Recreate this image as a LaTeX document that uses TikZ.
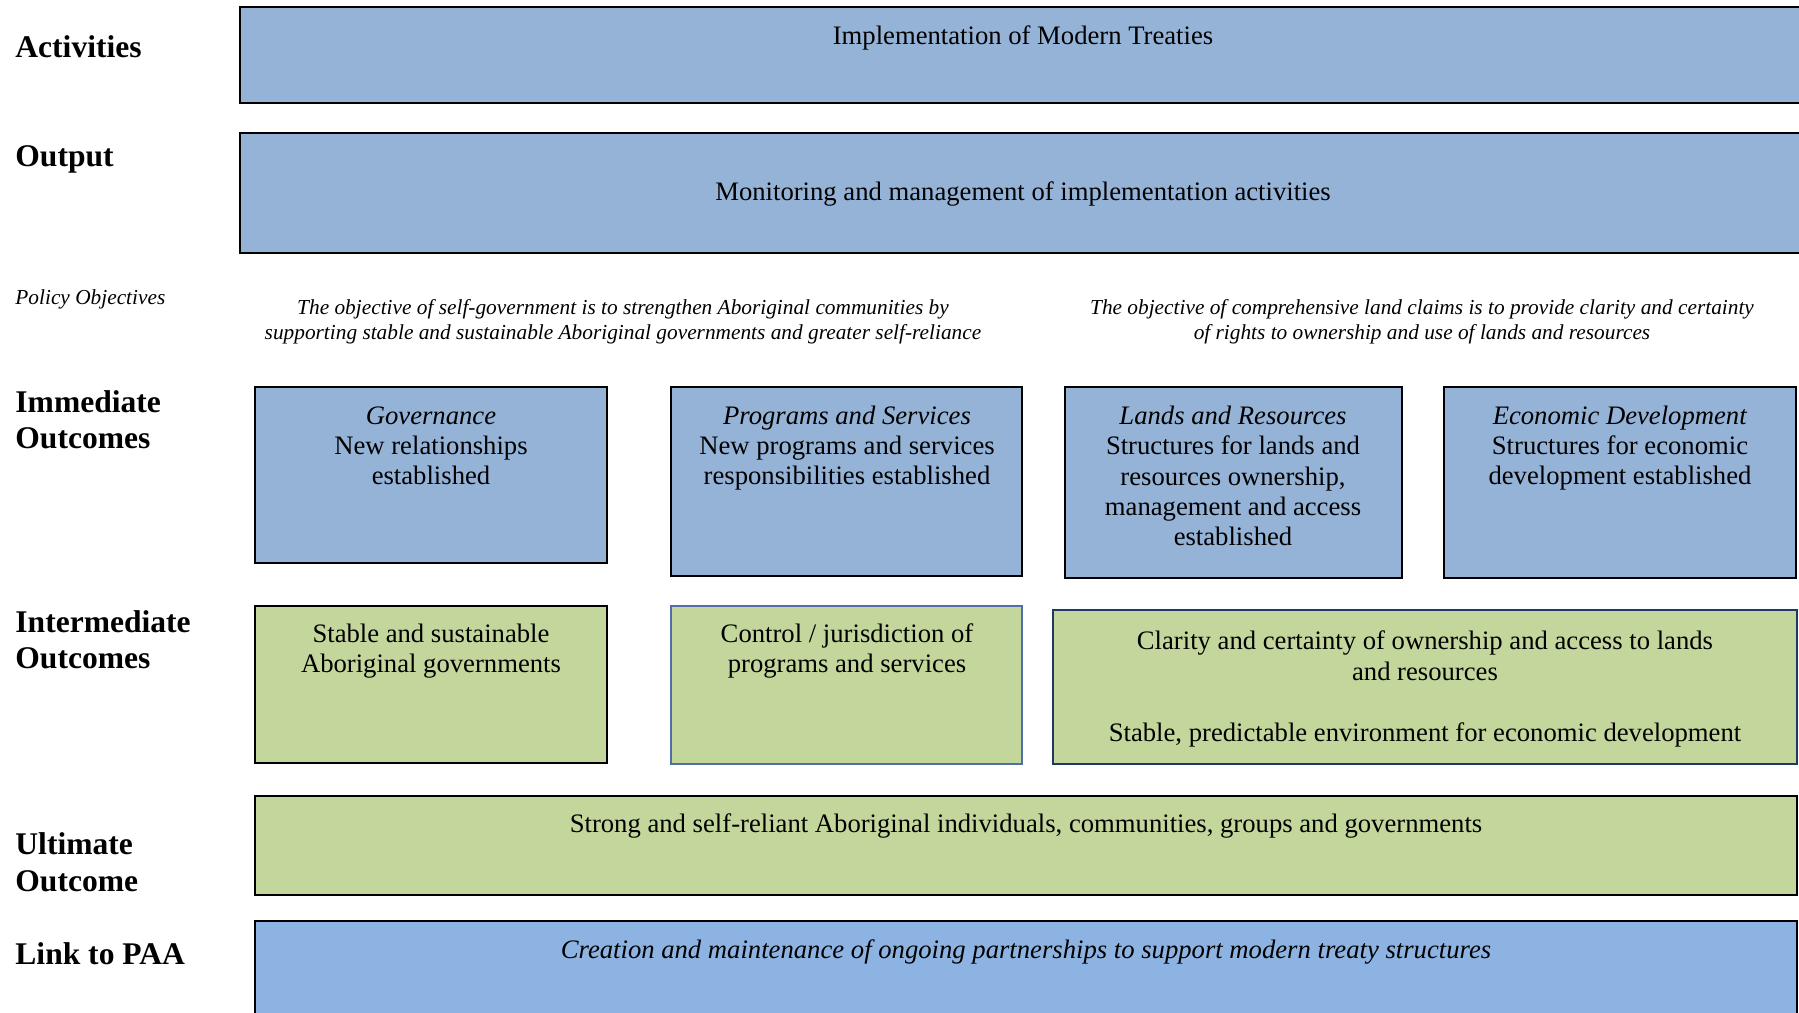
\documentclass[tikz,border=0pt]{standalone}
\usepackage{fontspec}
\setmainfont{Liberation Serif}
\usetikzlibrary{positioning}
\definecolor{boxblue}{HTML}{95B3D7}
\definecolor{paablue}{HTML}{8DB3E2}
\definecolor{boxgreen}{HTML}{C3D69B}
\definecolor{navyline}{HTML}{1F3864}
\definecolor{thinblue}{HTML}{4F6FA8}
\tikzset{rowlabel/.style={anchor=base west, align=left, inner sep=0, font=\fontsize{14.2}{16.6}\selectfont\bfseries},
         boxtext/.style={anchor=base, align=center, inner sep=0, font=\fontsize{12}{13.7}\selectfont},
         objtext/.style={anchor=base, align=center, inner sep=0, font=\fontsize{9.6}{11.3}\selectfont\itshape},
         bluebox/.style={draw, line width=0.8pt, fill=boxblue},
         greenbox/.style={draw, line width=0.8pt, fill=boxgreen}}

\begin{document}
\begin{tikzpicture}[x=0.45pt, y=-0.45pt]
    \useasboundingbox (0,0) rectangle (1799,1013);
    \clip (0,0) rectangle (1799,1013);
    \draw[bluebox] (240,7) rectangle (1810,103);
    \draw[bluebox] (240,133) rectangle (1810,253);
    \draw[bluebox] (255,387) rectangle (607,563);
    \draw[bluebox] (671,387) rectangle (1022,576);
    \draw[bluebox] (1065,387) rectangle (1402,578);
    \draw[bluebox] (1444,387) rectangle (1796,578);
    \draw[greenbox] (255,606) rectangle (607,763);
    \draw[greenbox, draw=thinblue, line width=0.5pt] (671,606) rectangle (1022,764);
    \draw[greenbox, draw=navyline] (1053,610) rectangle (1797,764);
    \draw[greenbox] (255,796) rectangle (1797,895);
    \draw[bluebox, fill=paablue] (255,921) rectangle (1797,1030);

    % base anchor of a multi-line node is its last line
    \node[rowlabel] (lact) at (15,58) {Activities};
    \node[rowlabel] (lout) at (15,167) {Output};
    \node[rowlabel, font=\fontsize{9.6}{11.3}\selectfont\itshape] (lpol) at (15,305) {Policy Objectives};
    \node[rowlabel] (limm) at (15,449) {Immediate\\Outcomes};
    \node[rowlabel] (lint) at (15,669) {Intermediate\\Outcomes};
    \node[rowlabel] (lult) at (15,891) {Ultimate\\Outcome};
    \node[rowlabel] (lpaa) at (15,964) {Link to PAA};

    \node[boxtext] (act) at (1023,45) {Implementation of Modern Treaties};
    \node[boxtext] (out) at (1023,201) {Monitoring and management of implementation activities};
    \node[objtext] (objsg) at (623,340) {The objective of self-government is to strengthen Aboriginal communities by\\supporting stable and sustainable Aboriginal governments and greater self-reliance};
    \node[objtext] (objlc) at (1422,340) {The objective of comprehensive land claims is to provide clarity and certainty\\of rights to ownership and use of lands and resources};
    \node[boxtext] (gov) at (431,485) {\textit{Governance}\\New relationships\\established};
    \node[boxtext] (prog) at (847,485) {\textit{Programs and Services}\\New programs and services\\responsibilities established};
    \node[boxtext] (land) at (1233,546) {\textit{Lands and Resources}\\Structures for lands and\\resources ownership,\\management and access\\established};
    \node[boxtext] (econ) at (1620,485) {\textit{Economic Development}\\Structures for economic\\development established};
    \node[boxtext] (stab) at (431,673) {Stable and sustainable\\Aboriginal governments};
    \node[boxtext] (ctrl) at (847,673) {Control / jurisdiction of\\programs and services};
    \node[boxtext] (clar) at (1425,741) {Clarity and certainty of ownership and access to lands\\and resources\\[\baselineskip]Stable, predictable environment for economic development};
    \node[boxtext] (ult) at (1026,832) {Strong and self-reliant Aboriginal individuals, communities, groups and governments};
    \node[boxtext] (paa) at (1026,958) {\textit{Creation and maintenance of ongoing partnerships to support modern treaty structures}};
\end{tikzpicture}
\end{document}
